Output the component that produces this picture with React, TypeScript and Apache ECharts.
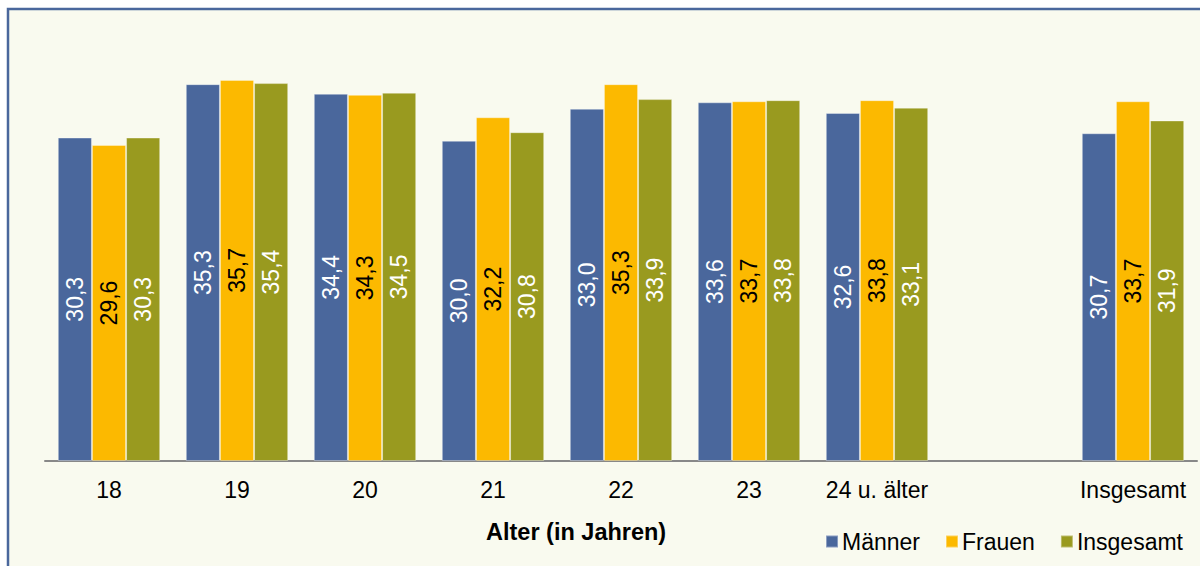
import React, { useEffect, useRef } from "react";
import * as echarts from "echarts";

const categories = ["18", "19", "20", "21", "22", "23", "24 u. älter", "", "Insgesamt"];
const maenner = [30.3, 35.3, 34.4, 30.0, 33.0, 33.6, 32.6, null, 30.7];
const frauen = [29.6, 35.7, 34.3, 32.2, 35.3, 33.7, 33.8, null, 33.7];
const insgesamt = [30.3, 35.4, 34.5, 30.8, 33.9, 33.8, 33.1, null, 31.9];
const seriesNames = ["Männer", "Frauen", "Insgesamt"];
const colors = ["#4a679c", "#fcb900", "#999a1f"];
const labelColors = ["#ffffff", "#000000", "#ffffff"];

const FONT = "Liberation Sans, Arial, sans-serif";

export default function App() {
  const ref = useRef<HTMLDivElement>(null);
  useEffect(() => {
    document.body.style.margin = "0";
    const chart = echarts.init(ref.current!, null, { renderer: "svg" });
    const datasets = [maenner, frauen, insgesamt];
    chart.setOption({
      animation: false,
      backgroundColor: "#ffffff",
      textStyle: { fontFamily: FONT },
      graphic: [
        {
          type: "rect",
          z: -10,
          silent: true,
          shape: { x: 8, y: 9, width: 1220, height: 600 },
          style: { fill: "#f9faef", stroke: "#4a679c", lineWidth: 2.5 },
        },
        {
          type: "text",
          left: 486,
          top: 520,
          style: {
            text: "Alter (in Jahren)",
            font: `bold 23.5px ${FONT}`,
            fill: "#000000",
          },
        },
      ],
      grid: { left: 45, right: 3, top: 34, bottom: 105 },
      legend: {
        right: 12,
        top: 525,
        itemWidth: 12,
        itemHeight: 12,
        itemGap: 25,
        icon: "rect",
        textStyle: { fontSize: 23, color: "#000000", fontFamily: FONT, padding: [0, 0, 0, -1] },
        data: seriesNames,
      },
      xAxis: {
        type: "category",
        data: categories,
        axisLine: { lineStyle: { color: "#888888", width: 2 } },
        axisTick: { show: false },
        axisLabel: { fontSize: 23, color: "#000000", margin: 17, interval: 0, fontFamily: FONT },
      },
      yAxis: {
        type: "value",
        min: 0,
        max: 40,
        show: false,
        splitLine: { show: false },
      },
      series: datasets.map((d, i) => ({
        name: seriesNames[i],
        type: "bar",
        data: d.map((v) => (v === null ? "-" : v)),
        barGap: "0%",
        barCategoryGap: "20%",
        itemStyle: { color: colors[i], borderColor: "rgba(255,255,255,0.35)", borderWidth: 1 },
        label: {
          show: true,
          position: "inside",
          rotate: 90,
          fontSize: 23,
          fontFamily: FONT,
          color: labelColors[i],
          formatter: (p: any) => String(p.value.toFixed(1)).replace(".", ","),
        },
      })),
    });
    return () => chart.dispose();
  }, []);
  return <div ref={ref} style={{ width: 1200, height: 566 }} />;
}
